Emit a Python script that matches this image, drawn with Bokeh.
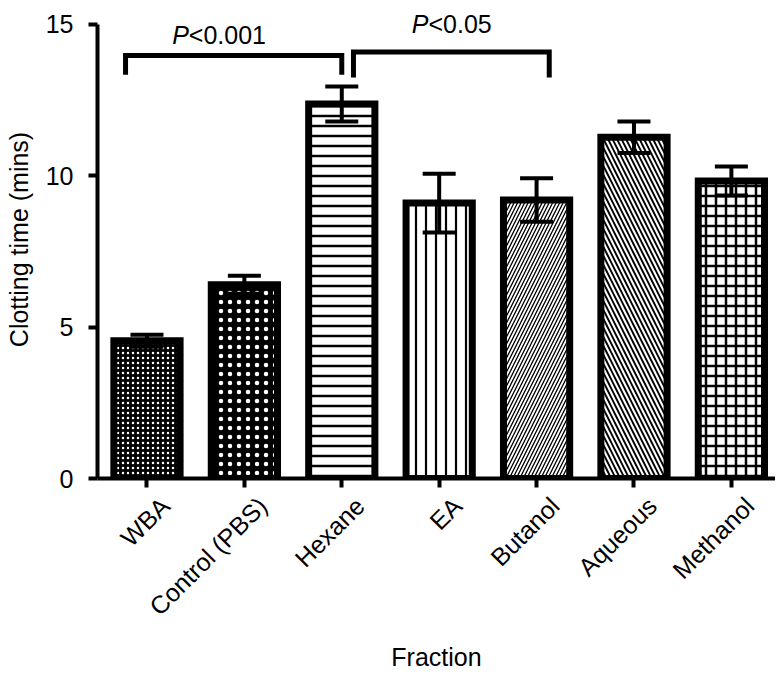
import math
from bokeh.plotting import figure
from bokeh.models import (Range1d, FixedTicker, ColumnDataSource, Whisker, TeeHead,
                          LinearAxis, CustomLabelingPolicy)
from bokeh.core.properties import value
from bokeh.embed import file_html
from bokeh.resources import INLINE

# ---- data ----
fractions = ["WBA", "Control (PBS)", "Hexane", "EA", "Butanol", "Aqueous", "Methanol"]
clotting_mean = [4.55, 6.40, 12.37, 9.10, 9.20, 11.27, 9.83]
clotting_err = [0.20, 0.30, 0.58, 0.97, 0.72, 0.52, 0.48]
y_ticks = [0, 5, 10, 15]

# significance annotations
sig_from = ["WBA", "Hexane"]
sig_to = ["Hexane", "Butanol"]
sig_text = ["<0.001", "<0.05"]
sig_top = [13.97, 14.09]
sig_bottom = [13.34, 13.25]

# ---- styles ----
FONT = "Liberation Sans"
fill_colors = ["black", "black", "white", "white", "white", "white", "white"]
hatch_colors = ["white", "white", "black", "black", "black", "black", "black"]
hatch_patterns = ["dot", "dot", "horizontal_line", "vertical_line",
                  "right_diagonal_line", "left_diagonal_line", "cross"]
hatch_scales = [5, 9, 10, 10, 7, 9, 10]
hatch_weights = [1, 1, 2.5, 2.2, 1.3, 1.9, 2.5]

n = len(fractions)
idx = list(range(n))
LABEL_SHIFT = 0.1875  # tick labels sit slightly right of their ticks

p = figure(width=775, height=675,
           x_range=Range1d(-0.508, 6.453), y_range=Range1d(0, 15.79),
           output_backend="svg", toolbar_location=None,
           min_border_left=97, min_border_right=0, min_border_top=0,
           min_border_bottom=197)
p.outline_line_color = None
p.xgrid.grid_line_color = None
p.ygrid.grid_line_color = None
p.background_fill_color = "white"
p.border_fill_color = "white"

src = ColumnDataSource(dict(x=idx, top=clotting_mean, fill=fill_colors,
                            hcol=hatch_colors, pat=hatch_patterns,
                            hs=hatch_scales, hw=hatch_weights))
p.vbar(x="x", top="top", bottom=0, width=0.68, source=src,
       fill_color="fill", line_color="black", line_width=7, line_join="miter",
       hatch_pattern="pat", hatch_color="hcol", hatch_scale="hs", hatch_weight="hw")

err_src = ColumnDataSource(dict(
    x=idx,
    upper=[m + e for m, e in zip(clotting_mean, clotting_err)],
    lower=[m - e for m, e in zip(clotting_mean, clotting_err)]))
whisk = Whisker(source=err_src, base="x", upper="upper", lower="lower",
                line_width=4, line_color="black", level="overlay",
                upper_head=TeeHead(size=33, line_width=4, line_color="black"),
                lower_head=TeeHead(size=33, line_width=4, line_color="black"))
p.add_layout(whisk)

# significance brackets
left_off = [-0.22, 0.12]
right_off = [0.0, 0.13]
bx, by = [], []
for a, b, t, bt, lo, ro in zip(sig_from, sig_to, sig_top, sig_bottom, left_off, right_off):
    x0 = fractions.index(a) + lo
    x1 = fractions.index(b) + ro
    bx.append([x0, x0, x1, x1])
    by.append([bt, t, t, bt])
p.multi_line(xs=bx, ys=by, line_color="black", line_width=5, line_join="miter")

text_x = [0.43, 2.89]
text_y = [14.64, 15.0]
p.text(x=text_x, y=text_y, text=["P", "P"], text_font=value(FONT),
       text_font_style="italic", text_font_size="25px", text_align="right",
       text_baseline="alphabetic", text_color="black")
p.text(x=text_x, y=text_y, text=sig_text, text_font=value(FONT),
       text_font_style="normal", text_font_size="25px", text_align="left",
       text_baseline="alphabetic", text_color="black")


def style(ax):
    ax.axis_line_width = 4
    ax.axis_line_color = "black"
    ax.major_tick_line_width = 4
    ax.major_tick_line_color = "black"
    ax.major_tick_out = 9
    ax.major_tick_in = 0
    ax.minor_tick_line_color = None
    ax.major_label_text_font = FONT
    ax.major_label_text_font_size = "25px"
    ax.major_label_text_color = "black"
    ax.axis_label_text_font = FONT
    ax.axis_label_text_font_size = "25px"
    ax.axis_label_text_font_style = "normal"
    ax.axis_label_text_color = "black"


# y axis
style(p.yaxis[0])
p.yaxis.ticker = FixedTicker(ticks=y_ticks)
p.yaxis.bounds = (0, 15)
p.yaxis.major_label_standoff = 15
p.yaxis.axis_label = "Clotting time (mins)"
p.yaxis.axis_label_standoff = 10

# x axis: line + tick marks only (its own labels are suppressed)
xa = p.xaxis[0]
style(xa)
xa.ticker = FixedTicker(ticks=idx)
xa.major_label_policy = CustomLabelingPolicy(code="return []")
xa.major_label_text_font_size = "0px"
xa.major_label_standoff = 0

# x axis: category labels (slightly offset to the right, as in the original)
xl = LinearAxis(ticker=FixedTicker(ticks=[i + LABEL_SHIFT for i in idx]))
style(xl)
xl.axis_line_color = None
xl.major_tick_line_color = None
xl.major_tick_out = 0
xl.major_label_overrides = {i + LABEL_SHIFT: f for i, f in enumerate(fractions)}
xl.major_label_orientation = math.pi / 4
xl.major_label_standoff = 14
xl.axis_label = "Fraction"
xl.axis_label_standoff = 10
p.add_layout(xl, "below")

open("out.html", "w").write(file_html(p, INLINE))
